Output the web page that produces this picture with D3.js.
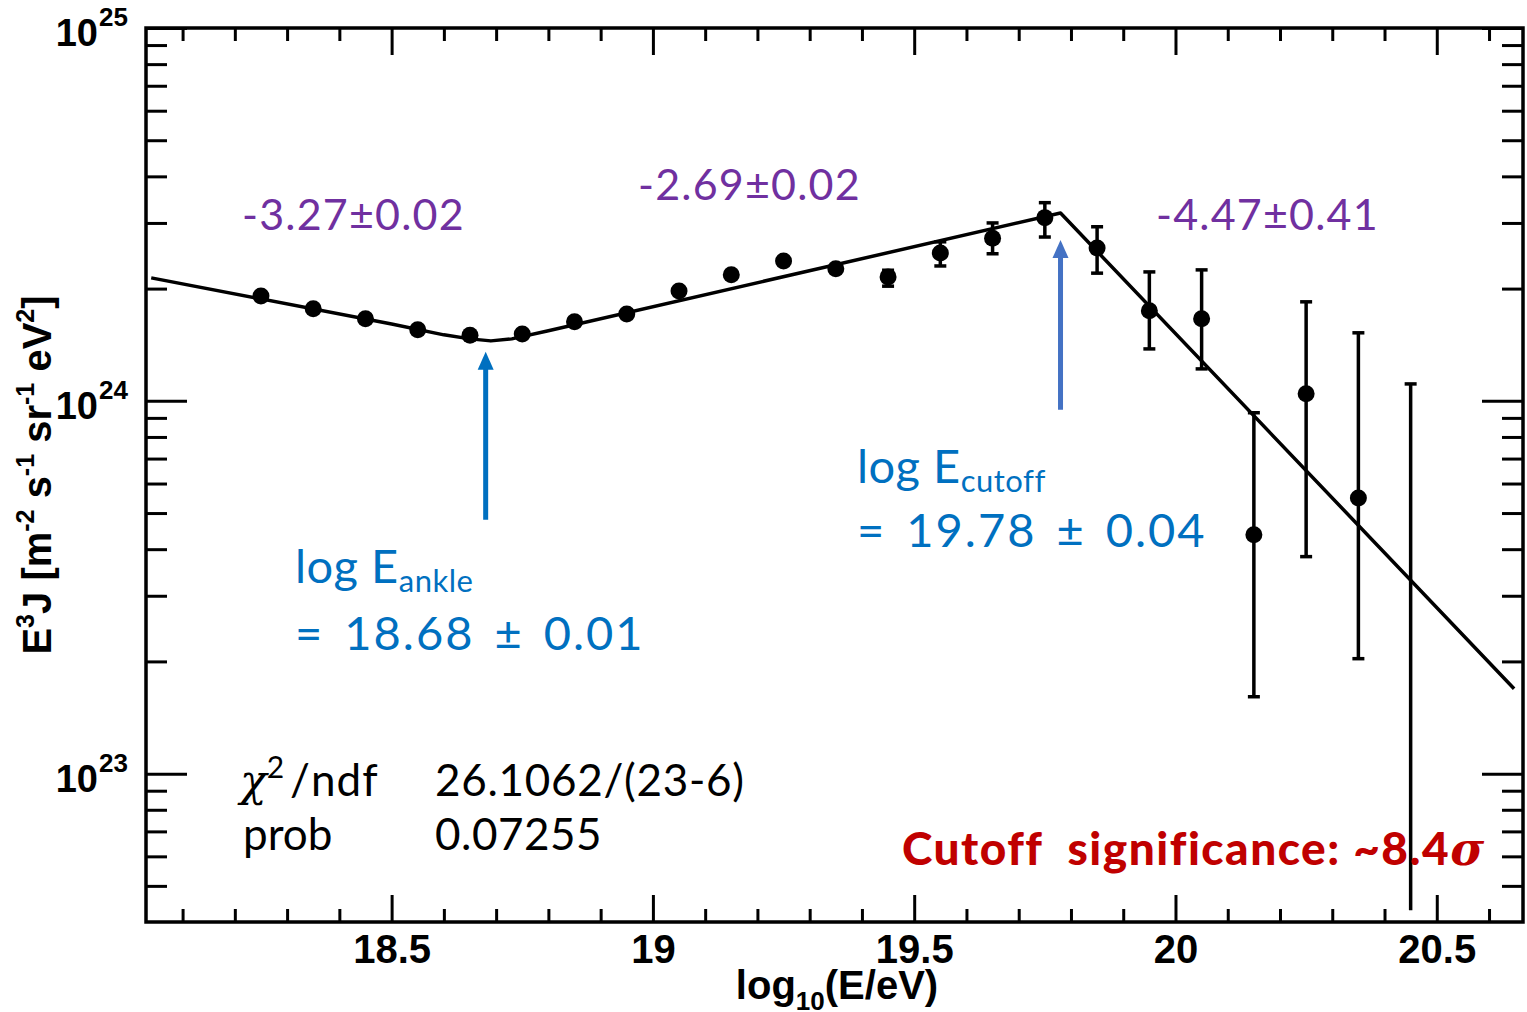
<!DOCTYPE html>
<html>
<head>
<meta charset="utf-8">
<title>E3J spectrum with broken power law fit</title>
<script src="https://cdn.jsdelivr.net/npm/d3@7"></script>
<style>
body { margin: 0; background: #fff; }
.ax text { font-family: "Liberation Sans", Arial, sans-serif; font-weight: bold; }
.ann { font-family: Lato, "Noto Sans", sans-serif; white-space: pre; }
</style>
</head>
<body>
<svg id="chart" width="1527" height="1012"></svg>
<script>
var logE   = [18.25, 18.35, 18.45, 18.55, 18.65, 18.75, 18.85, 18.95, 19.05, 19.15, 19.25, 19.35,
              19.45, 19.55, 19.65, 19.75, 19.85, 19.95, 20.05, 20.15, 20.25, 20.35, 20.45];
var flux   = [1.91e24, 1.765e24, 1.66e24, 1.55e24, 1.50e24, 1.51e24, 1.63e24, 1.71e24, 1.97e24, 2.18e24, 2.37e24, 2.26e24,
              2.15e24, 2.49e24, 2.73e24, 3.10e24, 2.57e24, 1.743e24, 1.66e24, 4.37e23, 1.045e24, 5.49e23, null];
var fluxLo = [null, null, null, null, null, null, null, null, null, null, null, null,
              2.03e24, 2.30e24, 2.48e24, 2.75e24, 2.20e24, 1.378e24, 1.218e24, 1.608e23, 3.82e23, 2.034e23, 4.3e22];
var fluxHi = [null, null, null, null, null, null, null, null, null, null, null, null,
              2.24e24, 2.67e24, 3.00e24, 3.40e24, 2.93e24, 2.217e24, 2.245e24, 9.29e23, 1.843e24, 1.522e24, 1.11e24];

// fitted broken power law, vertices
var fitLogE = [18.04, 18.50, 18.60, 18.65, 18.69, 18.73, 18.80, 19.78, 20.648];
var fitFlux = [2.137e24, 1.608e24, 1.503e24, 1.466e24, 1.448e24, 1.466e24, 1.541e24, 3.19e24, 1.69e23];

var breakLogE = [18.68, 19.78];
var breakText = [["log E", "ankle", "= 18.68 \u00b1 0.01"], ["log E", "cutoff", "= 19.78 \u00b1 0.04"]];
var slopeText = ["-3.27\u00b10.02", "-2.69\u00b10.02", "-4.47\u00b10.41"];
var fitStats = [["/ndf", "26.1062/(23-6)"], ["prob", "0.07255"]];

var xMajor = [18.5, 19, 19.5, 20, 20.5];
var xMinor = d3.range(181, 207).map(function(d) { return d / 10; }).filter(function(d) { return xMajor.indexOf(d) < 0; });
var yMajor = [1e23, 1e24, 1e25];
var yMinor = [5e22, 6e22, 7e22, 8e22, 9e22].concat(d3.range(2, 10).map(function(d) { return d * 1e23; }),
                                                    d3.range(2, 10).map(function(d) { return d * 1e24; }));

var svg = d3.select("#chart");
svg.append("rect").attr("width", 1527).attr("height", 1012).attr("fill", "#fff");

var L = 146, R = 1523, T = 28, B = 922;
var x = d3.scaleLinear().domain([18.03, 20.665]).range([L, R]);
var y = d3.scaleLog().domain([4e22, 1e25]).range([B, T]);

// axes: inward ticks on all four sides
function addAxis(axis, tr) {
	var g = svg.append("g").attr("class", "ax").attr("transform", tr).call(axis);
	g.select(".domain").remove();
	g.selectAll("line").attr("stroke", "#000").attr("stroke-width", 3);
	return g;
}
addAxis(d3.axisBottom(x).tickValues(xMinor).tickSize(-13).tickFormat(""), "translate(0," + B + ")");
var xb = addAxis(d3.axisBottom(x).tickValues(xMajor).tickSize(-27).tickPadding(13).tickFormat(d3.format("")), "translate(0," + B + ")");
xb.selectAll("text").attr("font-size", 40).attr("fill", "#000");
addAxis(d3.axisTop(x).tickValues(xMinor).tickSize(-13).tickFormat(""), "translate(0," + T + ")");
addAxis(d3.axisTop(x).tickValues(xMajor).tickSize(-27).tickFormat(""), "translate(0," + T + ")");
addAxis(d3.axisLeft(y).tickValues(yMinor).tickSize(-21).tickFormat(""), "translate(" + L + ",0)");
addAxis(d3.axisLeft(y).tickValues(yMajor).tickSize(-41).tickFormat(""), "translate(" + L + ",0)");
addAxis(d3.axisRight(y).tickValues(yMinor).tickSize(-21).tickFormat(""), "translate(" + R + ",0)");
addAxis(d3.axisRight(y).tickValues(yMajor).tickSize(-41).tickFormat(""), "translate(" + R + ",0)");

svg.append("rect").attr("x", L).attr("y", T).attr("width", R - L).attr("height", B - T)
	.attr("fill", "none").attr("stroke", "#000").attr("stroke-width", 3.5);

// y tick labels 10^n
var yl = svg.append("g").attr("class", "ax");
yMajor.forEach(function(v) {
	yl.append("text").attr("x", 98).attr("y", y(v) + 18).attr("text-anchor", "end")
		.attr("font-size", 38).text("10");
	yl.append("text").attr("x", 99).attr("y", y(v) - 2).attr("font-size", 26)
		.text(Math.round(Math.log10(v)));
});

// axis titles
var xt = svg.append("text").attr("class", "ax").attr("x", 837).attr("y", 999)
	.attr("text-anchor", "middle").attr("font-size", 40)
	.style("font-family", "'Liberation Sans', Arial, sans-serif").style("font-weight", "bold");
xt.append("tspan").text("log");
xt.append("tspan").attr("font-size", 26).attr("dy", 11).text("10");
xt.append("tspan").attr("dy", -11).text("(E/eV)");

var yt = svg.append("text").attr("transform", "translate(51,475) rotate(-90)")
	.attr("text-anchor", "middle").attr("font-size", 40)
	.style("font-family", "'Liberation Sans', Arial, sans-serif").style("font-weight", "bold");
[["E", null], ["3", 1], ["J [m", 0], ["-2", 1], [" s", 0], ["-1", 1], [" sr", 0], ["-1", 1], [" eV", 0], ["2", 1], ["]", 0]]
	.forEach(function(p) {
		var s = yt.append("tspan").text(p[0]);
		if (p[1] === 1) s.attr("font-size", 25).attr("dy", -17);
		else if (p[1] === 0) s.attr("dy", 17);
	});

// fit curve
svg.append("path").datum(d3.zip(fitLogE, fitFlux))
	.attr("d", d3.line().x(function(d) { return x(d[0]); }).y(function(d) { return y(d[1]); }))
	.attr("fill", "none").attr("stroke", "#000").attr("stroke-width", 3.5).attr("stroke-linejoin", "round");

// error bars and points
var pts = logE.map(function(e, i) { return { e: e, v: flux[i], lo: fluxLo[i], hi: fluxHi[i] }; });
var eb = svg.append("g").attr("stroke", "#000").attr("stroke-width", 3.5);
pts.filter(function(d) { return d.lo != null; }).forEach(function(d) {
	var cx = x(d.e);
	eb.append("line").attr("x1", cx).attr("x2", cx).attr("y1", y(d.lo)).attr("y2", y(d.hi));
	eb.append("line").attr("x1", cx - 6).attr("x2", cx + 6).attr("y1", y(d.hi)).attr("y2", y(d.hi));
	if (d.lo > 4.5e22)
		eb.append("line").attr("x1", cx - 6).attr("x2", cx + 6).attr("y1", y(d.lo)).attr("y2", y(d.lo));
});
svg.append("g").selectAll("circle").data(pts.filter(function(d) { return d.v != null; })).enter()
	.append("circle").attr("cx", function(d) { return x(d.e); }).attr("cy", function(d) { return y(d.v); })
	.attr("r", 8.5).attr("fill", "#000");

// break arrows
var arrowCol = ["#0070c0", "#4472c4"];
var arrowY = [[4.8e23, 1.353e24], [9.46e23, 2.70e24]];
breakLogE.forEach(function(e, i) {
	var ax = x(e), y0 = y(arrowY[i][0]), y1 = y(arrowY[i][1]);
	svg.append("line").attr("x1", ax).attr("x2", ax).attr("y1", y0).attr("y2", y1 + 16)
		.attr("stroke", arrowCol[i]).attr("stroke-width", 5);
	svg.append("path").attr("d", "M" + (ax - 8) + "," + (y1 + 18) + "L" + ax + "," + y1 + "L" + (ax + 8) + "," + (y1 + 18) + "Z")
		.attr("fill", arrowCol[i]);
});

// break labels
var breakPos = [[295, 583, 650], [857, 483, 547]];
breakText.forEach(function(t, i) {
	var g = svg.append("g").attr("class", "ann").attr("fill", "#0070c0");
	var a = g.append("text").attr("x", breakPos[i][0]).attr("y", breakPos[i][1]).attr("font-size", 47)
		.style("letter-spacing", "0.5px");
	a.append("tspan").text(t[0]);
	a.append("tspan").attr("font-size", 31).attr("dy", 9).text(t[1]);
	g.append("text").attr("x", breakPos[i][0]).attr("y", breakPos[i][2]).attr("font-size", 47)
		.style("letter-spacing", "2px").style("word-spacing", "6px").text(t[2]);
});

// spectral index labels
var slopePos = [[242, 230], [638, 200], [1156, 230]];
slopeText.forEach(function(t, i) {
	svg.append("text").attr("class", "ann").attr("x", slopePos[i][0]).attr("y", slopePos[i][1])
		.attr("font-size", 43).attr("fill", "#7030a0").style("letter-spacing", "1.2px").text(t);
});

// fit statistics
var st = svg.append("g").attr("class", "ann").attr("fill", "#000").attr("font-size", 44);
var c1 = st.append("text").attr("x", 240).attr("y", 796);
c1.append("tspan").style("font-family", "'DejaVu Serif', serif").style("font-style", "italic").text("\u03c7");
c1.append("tspan").attr("font-size", 30).attr("dy", -18).text("2");
c1.append("tspan").attr("dy", 18).attr("dx", 6).style("letter-spacing", "1px").text(fitStats[0][0]);
st.append("text").attr("x", 435).attr("y", 796).style("letter-spacing", "0.7px").text(fitStats[0][1]);
st.append("text").attr("x", 243).attr("y", 850).text(fitStats[1][0]);
st.append("text").attr("x", 435).attr("y", 850).style("letter-spacing", "0.5px").text(fitStats[1][1]);

// cutoff significance
var cs = svg.append("text").attr("class", "ann").attr("x", 902).attr("y", 865)
	.attr("font-size", 46).attr("font-weight", 900).attr("fill", "#c00000")
	.style("letter-spacing", "1.5px");
cs.append("tspan").text("Cutoff  significance: ~8.4");
cs.append("tspan").style("font-style", "italic").style("font-family", "'DejaVu Serif', serif").text("\u03c3");
</script>
</body>
</html>
